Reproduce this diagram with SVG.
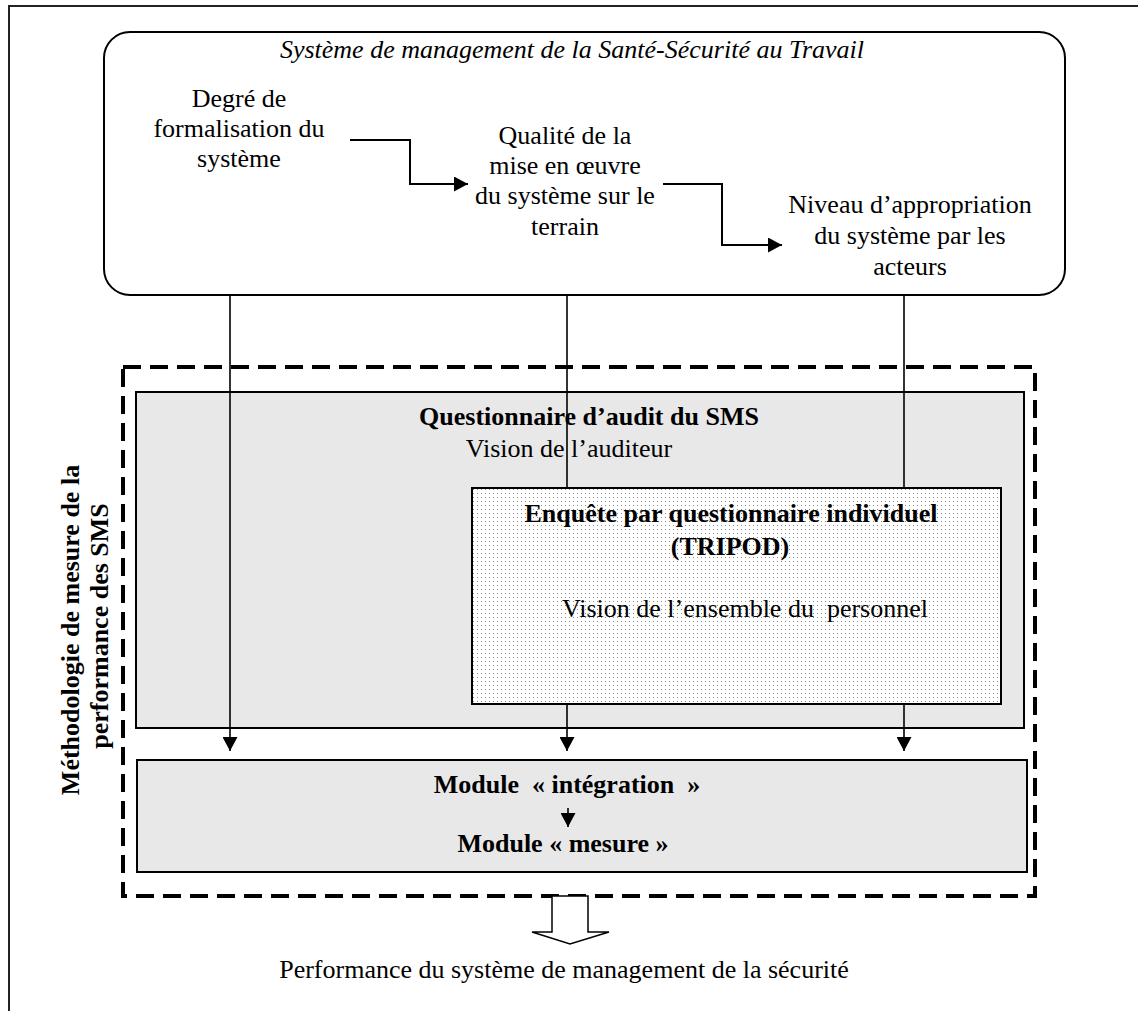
<svg xmlns="http://www.w3.org/2000/svg" width="1138" height="1011" viewBox="0 0 1138 1011">
<style>
text{font-family:"Liberation Serif","Times New Roman",serif;font-size:26px;fill:#000;white-space:pre}
.c{text-anchor:middle}
.b{font-weight:bold}
.i{font-style:italic}
.ln{stroke:#000;stroke-width:1.6;fill:none}
.ln2{stroke:#000;stroke-width:2;fill:none}
.box{fill:#e8e8e8;stroke:#000;stroke-width:2}
</style>
<defs>
<pattern id="dots" width="4" height="4" patternUnits="userSpaceOnUse">
<rect width="4" height="4" fill="#fff"/>
<rect x="1" y="1" width="1" height="1" fill="#8a8a8a"/>
</pattern>
<marker id="ah" markerWidth="15" markerHeight="15" refX="14" refY="7.5" orient="auto" markerUnits="userSpaceOnUse">
<path d="M0,0 L14,7.5 L0,15 Z" fill="#000"/>
</marker>
</defs>
<rect width="1138" height="1011" fill="#fff"/>
<g id="frame">
<path d="M9,1011 V6 H1138" stroke="#222" stroke-width="2" fill="none"/>
</g>
<g id="sms">
<rect x="104" y="32" width="961" height="263" rx="26" ry="26" fill="#fff" stroke="#000" stroke-width="2"/>
<text class="c i" x="572" y="58">Système de management de la Santé-Sécurité au Travail</text>
</g>
<g id="degre">
<text class="c" x="239" y="107">Degré de</text>
<text class="c" x="239" y="137">formalisation du</text>
<text class="c" x="239" y="167">système</text>
</g>
<g id="qualite">
<text class="c" x="565" y="144">Qualité de la</text>
<text class="c" x="565" y="174">mise en œuvre</text>
<text class="c" x="565" y="204">du système sur le</text>
<text class="c" x="565" y="235">terrain</text>
</g>
<g id="niveau">
<text class="c" x="910" y="213">Niveau d’appropriation</text>
<text class="c" x="910" y="244">du système par les</text>
<text class="c" x="910" y="275">acteurs</text>
</g>
<g id="methodologie">
<rect x="123" y="367" width="912" height="529" fill="none" stroke="#000" stroke-width="4" stroke-dasharray="18 9"/>
<text class="c b" transform="translate(79,630) rotate(-90)">Méthodologie de mesure de la</text>
<text class="c b" transform="translate(108,626) rotate(-90)">performance des SMS</text>
</g>
<g id="audit">
<rect class="box" x="136" y="392" width="888" height="336"/>
<text class="c b" x="589" y="425">Questionnaire d’audit du SMS</text>
<text class="c" x="569" y="457">Vision de l’auditeur</text>
</g>
<g id="tripod">
<rect x="472" y="488" width="529" height="216" fill="url(#dots)" stroke="#000" stroke-width="2"/>
<text class="c b" x="731" y="522">Enquête par questionnaire individuel</text>
<text class="c b" x="730" y="555">(TRIPOD)</text>
<text class="c" x="745" y="617">Vision de l’ensemble du  personnel</text>
</g>
<g id="modules">
<rect class="box" x="137" y="760" width="890" height="112"/>
<text class="c b" x="567" y="793">Module  « intégration  »</text>
<text class="c b" x="563" y="852">Module « mesure »</text>
</g>
<g id="performance">
<path d="M552,896 H588 V932 H609 L570,944 L532,932 H552 Z" fill="#fff" stroke="#000" stroke-width="1.5"/>
<text class="c" x="564" y="978">Performance du système de management de la sécurité</text>
</g>
<g id="connectors">
<path class="ln2" d="M350,140 H410 V184 H468" marker-end="url(#ah)"/>
<path class="ln2" d="M663,184 H722 V245 H782" marker-end="url(#ah)"/>
<path class="ln" d="M230,295 V751" marker-end="url(#ah)"/>
<path class="ln" d="M567,295 V488"/>
<path class="ln" d="M567,704 V751" marker-end="url(#ah)"/>
<path class="ln" d="M904,295 V488"/>
<path class="ln" d="M904,704 V751" marker-end="url(#ah)"/>
<path class="ln" d="M568,808 V827" marker-end="url(#ah)"/>
</g>
</svg>
